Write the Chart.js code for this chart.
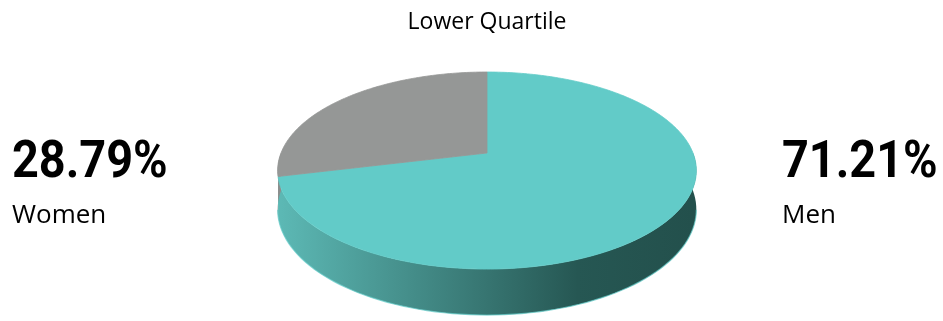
<!DOCTYPE html>
<html>
<head>
<meta charset="utf-8">
<script src="https://cdn.jsdelivr.net/npm/chart.js@4.4.1/dist/chart.umd.min.js"></script>
<style>
  html, body { margin: 0; padding: 0; background: #fff; }
  #wrap { position: relative; width: 943px; height: 321px; overflow: hidden; }
  .big { position: absolute; font-family: Roboto, sans-serif; font-weight: 700; font-size: 52px;
         line-height: 1; color: #000; transform: scaleX(0.9); transform-origin: left top; white-space: nowrap; }
  .name { position: absolute; font-family: "Open Sans", sans-serif; font-size: 26px; line-height: 1; color: #000; }
</style>
</head>
<body>
<div id="wrap">
  <canvas id="pie"></canvas>
</div>
<script>
const labels = ['Men', 'Women'];
const shares = [71.21, 28.79];
const topColors = ['#62cbc8', '#959796'];
const sideColors = [['#5cb8b4', '#265753', '#23504c'], ['#8c8e8d', '#5e605f', '#555756']];
const chartTitle = 'Lower Quartile';

// tilted-disc projection (perspective)
const CX = 487, CY = 153, A = 206, B = 95.4, K = 0.178, DEPTH = 37.8;

function project(t, drop) {
  const s = Math.sin(t), w = 1 / (1 - K * s);
  return [CX + A * Math.cos(t) * w, CY + (B * s + drop) * w];
}

const pie3d = {
  id: 'pie3d',
  beforeDatasetsDraw(chart) {
    const ctx = chart.ctx;
    const arcs = chart.getDatasetMeta(0).data;
    ctx.save();

    // side walls (front half only)
    arcs.forEach((arc, i) => {
      const a0 = Math.max(arc.startAngle, 0), a1 = Math.min(arc.endAngle, Math.PI);
      if (a1 <= a0) return;
      const n = 80;
      const g = ctx.createLinearGradient(CX - A, 0, CX + A, 0);
      g.addColorStop(0, sideColors[i][0]);
      g.addColorStop(0.72, sideColors[i][1]);
      g.addColorStop(1, sideColors[i][2]);
      ctx.beginPath();
      for (let j = 0; j <= n; j++) {
        const p = project(a0 + (a1 - a0) * j / n, 0);
        j === 0 ? ctx.moveTo(p[0], p[1]) : ctx.lineTo(p[0], p[1]);
      }
      for (let j = n; j >= 0; j--) {
        const p = project(a0 + (a1 - a0) * j / n, DEPTH);
        ctx.lineTo(p[0], p[1]);
      }
      ctx.closePath();
      ctx.fillStyle = g;
      ctx.fill();
    });

    // light rim on the bottom edge
    ctx.beginPath();
    for (let j = 0; j <= 80; j++) {
      const p = project(0.18 + (Math.PI - 0.36) * j / 80, DEPTH);
      j === 0 ? ctx.moveTo(p[0], p[1]) : ctx.lineTo(p[0], p[1]);
    }
    ctx.strokeStyle = 'rgba(98,203,200,0.7)';
    ctx.lineWidth = 1.2;
    ctx.stroke();

    // top faces
    arcs.forEach((arc) => {
      const a0 = arc.startAngle, a1 = arc.endAngle;
      const n = Math.max(8, Math.ceil((a1 - a0) * 60));
      ctx.beginPath();
      ctx.moveTo(CX, CY);
      for (let j = 0; j <= n; j++) {
        const p = project(a0 + (a1 - a0) * j / n, 0);
        ctx.lineTo(p[0], p[1]);
      }
      ctx.closePath();
      ctx.fillStyle = arc.options.backgroundColor;
      ctx.fill();
      ctx.strokeStyle = arc.options.backgroundColor;
      ctx.lineWidth = 0.8;
      ctx.stroke();
    });

    ctx.restore();
    return false;
  }
};

new Chart(document.getElementById('pie'), {
  type: 'pie',
  data: {
    labels: labels,
    datasets: [{
      data: shares,
      backgroundColor: topColors,
      borderWidth: 0
    }]
  },
  options: {
    responsive: true,
    maintainAspectRatio: false,
    animation: false,
    layout: { padding: { left: 31 } },
    plugins: {
      legend: { display: false },
      tooltip: { enabled: false },
      title: {
        display: true,
        text: chartTitle,
        color: '#000',
        font: { family: "'Open Sans', sans-serif", size: 23, weight: 'normal' },
        padding: { top: 9, bottom: 10 }
      }
    }
  },
  plugins: [pie3d]
});

// side labels built from the data arrays
const wrap = document.getElementById('wrap');
const placement = { Women: 12, Men: 782 };
labels.forEach((name, i) => {
  const big = document.createElement('div');
  big.className = 'big';
  big.textContent = shares[i].toFixed(2) + '%';
  big.style.left = placement[name] + 'px';
  big.style.top = '134px';
  wrap.appendChild(big);
  const small = document.createElement('div');
  small.className = 'name';
  small.textContent = name;
  small.style.left = placement[name] + 'px';
  small.style.top = '200px';
  wrap.appendChild(small);
});
</script>
</body>
</html>
